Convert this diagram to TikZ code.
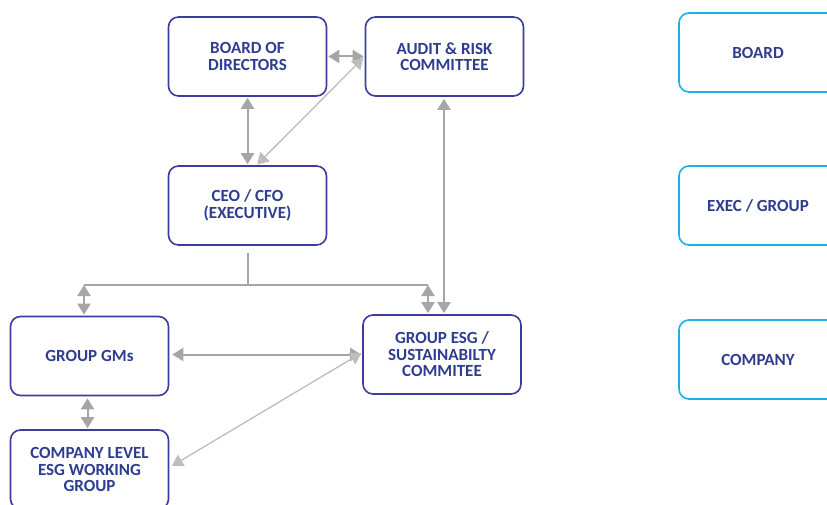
\documentclass[tikz,border=0pt]{standalone}
\usepackage{fontspec}
\setmainfont{Carlito}
\usetikzlibrary{arrows.meta}
\definecolor{boxblue}{HTML}{3C3C9C}
\definecolor{txtblue}{HTML}{2E3D8F}
\definecolor{cyanb}{HTML}{1CB0E8}
\definecolor{arrgray}{HTML}{A6A6A6}
\definecolor{thingray}{HTML}{BDBDBD}
\tikzset{
  orgbox/.style={draw=boxblue, line width=1.6pt, rounded corners=10pt, fill=white,
    minimum width=158pt, minimum height=79pt, align=center, text=txtblue,
    font=\bfseries\fontsize{17}{16.5}\selectfont, inner sep=2pt},
  lvlbox/.style={orgbox, draw=cyanb},
  tip/.tip={Triangle[width=13pt,length=11pt]},
  dbl/.style={draw=arrgray, line width=2pt, tip-tip},
  thin dbl/.style={draw=thingray, line width=1.3pt, tip-tip},
  plain/.style={draw=arrgray, line width=2pt}
}
\begin{document}
\begin{tikzpicture}[x=1pt,y=-1pt]
\useasboundingbox (0,0) rectangle (827,505);
\begin{scope}
\clip (0,0) rectangle (827,505);
\node[orgbox] (bod) at (247.5,56.5) {BOARD OF\\DIRECTORS};
\node[orgbox] (arc) at (444.5,56.5) {AUDIT \& RISK\\COMMITTEE};
\node[orgbox] (ceo) at (247.5,205.5) {CEO / CFO\\(EXECUTIVE)};
\node[orgbox] (gms) at (89.5,356) {GROUP GMs};
\node[orgbox] (esg) at (442,354.5) {GROUP ESG /\\SUSTAINABILTY\\COMMITEE};
\node[orgbox] (co) at (89.5,469.5) {COMPANY LEVEL\\ESG WORKING\\GROUP};
\node[lvlbox] (lb) at (758,52.5) {BOARD};
\node[lvlbox] (le) at (758,205.5) {EXEC / GROUP};
\node[lvlbox] (lc) at (758,359.5) {COMPANY};

\coordinate (junc) at (247.5,285);
\coordinate (jl) at (84,285);
\coordinate (jr) at (428,285);

\draw[dbl, shorten <=1pt, shorten >=1pt] (bod.east) -- (arc.west);
\draw[dbl, shorten <=1pt, shorten >=1pt] (bod.south) -- (ceo.north);
\draw[thin dbl, shorten <=1pt, shorten >=2pt] ([xshift=9pt]ceo.north) -- (arc.west);
\draw[plain] ([yshift=-7pt]ceo.south) -- (junc);
\draw[plain] (jl) -- (jr);
\draw[dbl, shorten >=1pt] (jl) -- (jl |- gms.north);
\draw[dbl, shorten >=1pt] (jr) -- (jr |- esg.north);
\draw[dbl, shorten <=2pt, shorten >=1pt] ([xshift=-0.5pt]arc.south) -- ([xshift=-0.5pt]arc.south |- esg.north);
\draw[dbl, shorten <=3pt, shorten >=1pt] (gms.east |- esg.west) -- (esg.west);
\draw[dbl, shorten <=2pt, shorten >=1pt] ([xshift=-2pt]gms.south) -- ([xshift=-2pt]co.north);
\draw[thin dbl, shorten <=1pt, shorten >=3pt] ([yshift=2pt]esg.west) -- ([yshift=2pt]co.east);
\end{scope}
\end{tikzpicture}
\end{document}
